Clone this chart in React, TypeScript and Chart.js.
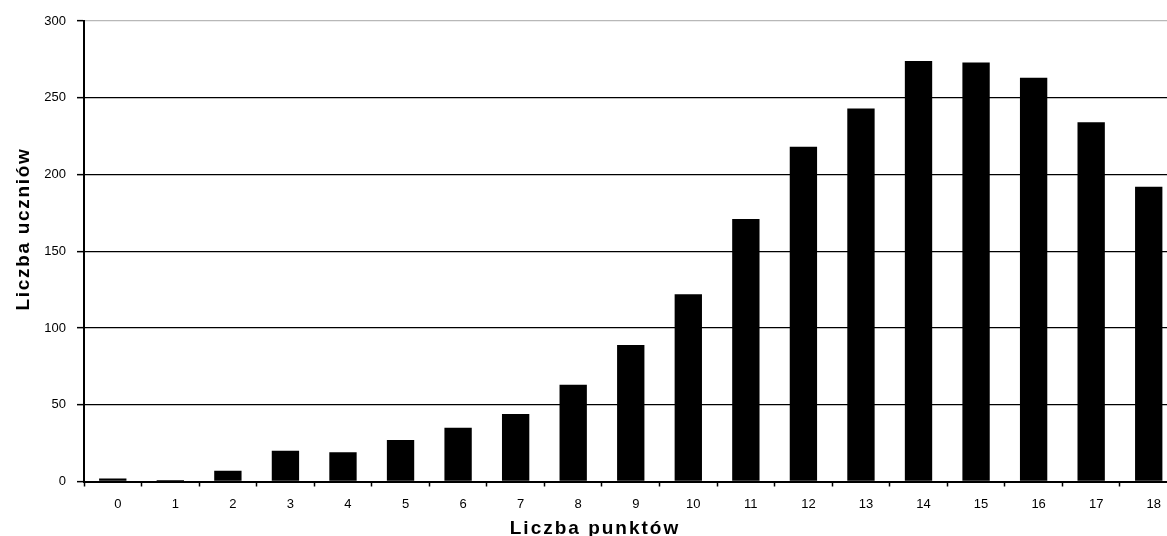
import { useEffect, useRef } from "react";
import { Chart, registerables } from "chart.js";

Chart.register(...registerables);

// Number of points scored (x categories)
const pointCategories = [
  "0", "1", "2", "3", "4", "5", "6", "7", "8", "9",
  "10", "11", "12", "13", "14", "15", "16", "17", "18",
];

// Number of students per score
const studentCounts = [
  2, 1, 7, 20, 19, 27, 35, 44, 63, 89,
  122, 171, 218, 243, 274, 273, 263, 234, 192,
];

// Value axis range and step
const yMin = 0;
const yMax = 300;
const yStep = 50;

const xTitle = "Liczba punktów";
const yTitle = "Liczba uczniów";

const FONT = "'Liberation Sans', Arial, Helvetica, sans-serif";

// Draws the two axis titles with slightly widened letter spacing
const axisTitlesPlugin = {
  id: "axisTitles",
  afterDraw(chart: any) {
    const ctx = chart.ctx as CanvasRenderingContext2D;
    ctx.save();
    ctx.fillStyle = "#000";
    ctx.font = `bold 19px ${FONT}`;
    (ctx as any).letterSpacing = "2px";
    ctx.textAlign = "center";
    ctx.textBaseline = "alphabetic";
    ctx.fillText(xTitle, chart.width / 2, 534);

    (ctx as any).letterSpacing = "1.7px";
    ctx.translate(29, 229);
    ctx.rotate(-Math.PI / 2);
    ctx.fillText(yTitle, 0, 0);
    ctx.restore();
  },
};

export default function App() {
  const canvasRef = useRef<HTMLCanvasElement | null>(null);

  useEffect(() => {
    document.documentElement.style.overflow = "hidden";
    document.body.style.overflow = "hidden";
    const canvas = canvasRef.current;
    if (!canvas) return;

    const chart = new Chart(canvas, {
      type: "bar",
      data: {
        labels: pointCategories,
        datasets: [
          {
            data: studentCounts,
            backgroundColor: "#000",
            borderWidth: 0,
            categoryPercentage: 1,
            barPercentage: 0.475,
          },
        ],
      },
      options: {
        responsive: false,
        animation: false,
        devicePixelRatio: 1,
        layout: {
          padding: { left: 0, right: 12.5, top: 21, bottom: 0 },
        },
        plugins: {
          legend: { display: false },
          tooltip: { enabled: false },
        },
        scales: {
          x: {
            type: "category",
            offset: true,
            border: { display: true, color: "#000", width: 2 },
            grid: {
              offset: true,
              drawOnChartArea: false,
              drawTicks: true,
              tickLength: 5,
              tickColor: "#000",
              tickWidth: 1.5,
            },
            ticks: {
              autoSkip: false,
              maxRotation: 0,
              minRotation: 0,
              padding: 10,
              labelOffset: 5,
              color: "#000",
              font: { family: FONT, size: 13 },
            },
            afterFit(scale: any) {
              scale.height = 54.5;
            },
          },
          y: {
            type: "linear",
            min: yMin,
            max: yMax,
            border: { display: true, color: "#000", width: 2 },
            grid: {
              color: (c: any) => (c.tick && c.tick.value === yMax ? "#b8b8b8" : "#000"),
              lineWidth: 1.3,
              drawTicks: true,
              tickLength: 7,
              tickColor: "#000",
              tickWidth: 1.5,
            },
            ticks: {
              stepSize: yStep,
              padding: 11,
              color: "#000",
              font: { family: FONT, size: 13 },
            },
            afterFit(scale: any) {
              scale.width = 84;
            },
          },
        },
      },
      plugins: [axisTitlesPlugin],
    });

    return () => {
      chart.destroy();
    };
  }, []);

  return (
    <div style={{ position: "fixed", left: 0, top: 0, width: 1190, height: 536, background: "#fff" }}>
      <canvas ref={canvasRef} width={1190} height={536} style={{ display: "block", width: 1190, height: 536 }} />
    </div>
  );
}
